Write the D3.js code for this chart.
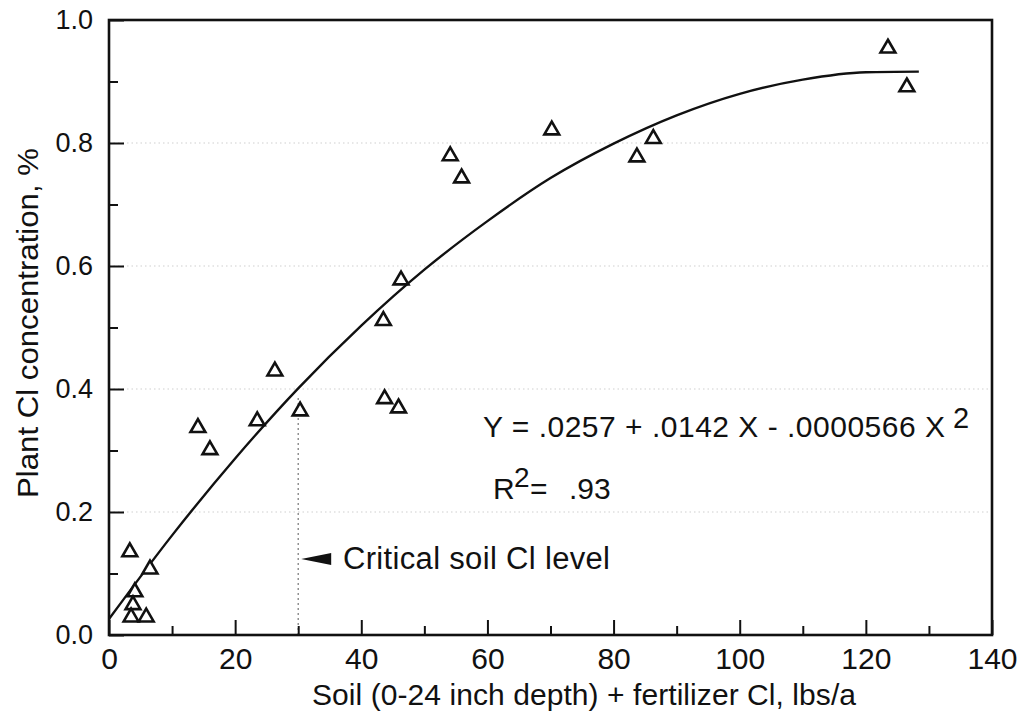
<!DOCTYPE html>
<html><head><meta charset="utf-8">
<script src="https://cdn.jsdelivr.net/npm/d3@7"></script>
<style>
body{margin:0;background:#fff;}
svg text{font-family:"Liberation Sans",Arial,Helvetica,sans-serif;fill:#111;}
</style></head>
<body><svg id="c" width="1021" height="719"></svg>
<script>
// observed points (soil + fertilizer Cl, lbs/a ; plant Cl %)
const soilCl  = [3.3, 6.5, 4.1, 3.8, 3.5, 5.9, 14.1, 16.0, 23.5, 26.3, 30.3, 43.5, 43.7, 45.9, 46.3, 54.1, 55.9, 70.2, 83.7, 86.3, 123.5, 126.5];
const plantCl = [0.135, 0.107, 0.070, 0.049, 0.029, 0.029, 0.337, 0.301, 0.348, 0.429, 0.364, 0.511, 0.384, 0.369, 0.577, 0.779, 0.743, 0.821, 0.777, 0.807, 0.954, 0.891];
// fitted curve
const curveX = [0, 10, 20, 30, 40, 50, 60, 70, 80, 90, 100, 110, 120, 128.4];
const curveY = [0.026, 0.162, 0.287, 0.401, 0.503, 0.594, 0.673, 0.743, 0.799, 0.845, 0.880, 0.903, 0.915, 0.916];
const xTicks = [0, 20, 40, 60, 80, 100, 120, 140];
const xMinor = [10, 30, 50, 70, 90, 110, 130];
const yTicks = [0, 0.2, 0.4, 0.6, 0.8, 1.0];
const yMinor = [0.1, 0.3, 0.5, 0.7, 0.9];
const yGrid = [0.2, 0.4, 0.6, 0.8];
const criticalX = 30;
const criticalTop = 0.385;

const svg = d3.select("#c");
const L = 109, R = 992, T = 20, B = 635;
const x = d3.scaleLinear().domain([0, 140]).range([L, R]);
const y = d3.scaleLinear().domain([0, 1]).range([B, T]);

// grid
svg.append("g").selectAll("line").data(yGrid).join("line")
  .attr("x1", L).attr("x2", R).attr("y1", d => y(d)).attr("y2", d => y(d))
  .attr("stroke", "#cfcfcf").attr("stroke-width", 1).attr("stroke-dasharray", "1.5,3");

// critical line
svg.append("line").attr("x1", x(criticalX)).attr("x2", x(criticalX))
  .attr("y1", y(criticalTop)).attr("y2", y(0))
  .attr("stroke", "#555").attr("stroke-width", 1.3).attr("stroke-dasharray", "1.5,3.5");

// axes
const gx = svg.append("g").attr("transform", `translate(0,${B})`)
  .call(d3.axisBottom(x).tickValues(xTicks).tickSize(-15).tickPadding(13).tickFormat(d3.format("d")));
const gxm = svg.append("g").attr("transform", `translate(0,${B})`)
  .call(d3.axisBottom(x).tickValues(xMinor).tickSize(-9).tickFormat(""));
const gy = svg.append("g").attr("transform", `translate(${L},0)`)
  .call(d3.axisLeft(y).tickValues(yTicks).tickSize(-15).tickPadding(16).tickFormat(d3.format(".1f")));
const gym = svg.append("g").attr("transform", `translate(${L},0)`)
  .call(d3.axisLeft(y).tickValues(yMinor).tickSize(-9).tickFormat(""));
[gx, gxm, gy, gym].forEach(g => {
  g.select(".domain").remove();
  g.selectAll(".tick line").attr("stroke", "#111").attr("stroke-width", 2);
  g.selectAll("text").attr("fill", "#111");
});
gx.selectAll("text").style("font-size", "30px");
gy.selectAll("text").style("font-size", "27px");

// frame
svg.append("rect").attr("x", L).attr("y", T).attr("width", R - L).attr("height", B - T)
  .attr("fill", "none").attr("stroke", "#111").attr("stroke-width", 2.6);

// fitted curve
svg.append("path").datum(curveX.map((d, i) => [d, curveY[i]]))
  .attr("d", d3.line().x(d => x(d[0])).y(d => y(d[1])).curve(d3.curveMonotoneX))
  .attr("fill", "none").attr("stroke", "#111").attr("stroke-width", 2.4);

// points
const tri = d3.symbol().type(d3.symbolTriangle).size(95);
svg.append("g").selectAll("path").data(soilCl.map((d, i) => [d, plantCl[i]])).join("path")
  .attr("d", tri)
  .attr("transform", d => `translate(${x(d[0])},${y(d[1])})`)
  .attr("fill", "#fff").attr("stroke", "#111").attr("stroke-width", 2.6);

// arrow + critical label
const ay = 559;
svg.append("path")
  .attr("d", `M${x(criticalX) + 3},${ay} L${x(criticalX) + 33},${ay - 6} L${x(criticalX) + 33},${ay + 6} Z`)
  .attr("fill", "#111");
svg.append("text").attr("x", 343).attr("y", 569).style("font-size", "31px")
  .attr("textLength", 267).attr("lengthAdjust", "spacing").text("Critical soil Cl level");

// equation
svg.append("text").attr("x", 483).attr("y", 437).style("font-size", "30px")
  .attr("textLength", 462).attr("lengthAdjust", "spacing").text("Y = .0257 + .0142 X - .0000566 X");
svg.append("text").attr("x", 953).attr("y", 428).style("font-size", "29px").text("2");
svg.append("text").attr("x", 493).attr("y", 499).style("font-size", "30px").text("R");
svg.append("text").attr("x", 514).attr("y", 487).style("font-size", "28px").text("2");
svg.append("text").attr("x", 530).attr("y", 499).style("font-size", "30px").text("=");
svg.append("text").attr("x", 569).attr("y", 499).style("font-size", "30px").text(".93");

// axis titles
svg.append("text").attr("x", 584).attr("y", 705).attr("text-anchor", "middle")
  .style("font-size", "30px").attr("textLength", 544).attr("lengthAdjust", "spacing")
  .text("Soil (0-24 inch depth) + fertilizer Cl, lbs/a");
svg.append("text").attr("transform", `translate(38,323) rotate(-90)`).attr("text-anchor", "middle")
  .style("font-size", "29px").attr("textLength", 350).attr("lengthAdjust", "spacingAndGlyphs")
  .text("Plant Cl concentration, %");
</script></body></html>
